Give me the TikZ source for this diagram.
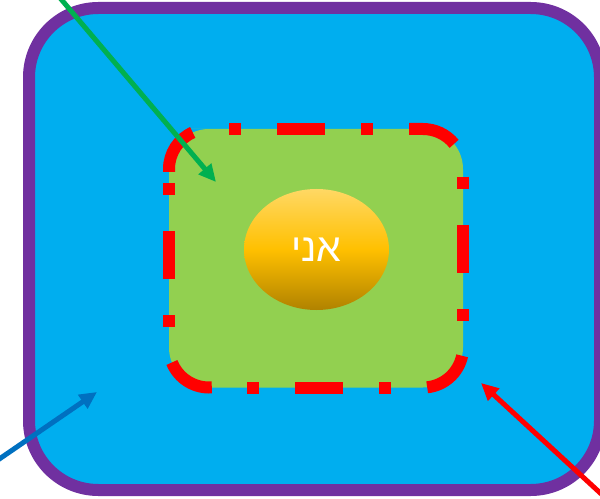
\documentclass[tikz,border=0pt]{standalone}
\usepackage{fontspec}
\usetikzlibrary{arrows.meta,shapes.geometric}
\TeXXeTstate=1
\newfontfamily\hebfont[Script=Hebrew]{Liberation Sans}
\definecolor{outerblue}{RGB}{0,174,239}
\definecolor{outerpurple}{RGB}{112,48,160}
\definecolor{innergreen}{RGB}{146,208,80}
\definecolor{arrgreen}{RGB}{0,176,80}
\definecolor{arrblue}{RGB}{0,112,192}
\definecolor{goldtop}{RGB}{255,216,100}
\definecolor{goldmid}{RGB}{255,192,0}
\definecolor{goldbot}{RGB}{176,130,0}
\tikzset{
  outerbox/.style={draw=outerpurple, fill=outerblue, line width=9pt,
    rounded corners=52pt, minimum width=428.25pt, minimum height=361.5pt,
    inner sep=0pt, outer sep=0pt},
  sidedash/.style={draw=red, line width=9pt,
    dash pattern=on 9pt off 27pt on 36pt off 27pt on 9pt off 100pt},
  cornerdash/.style={draw=red, line width=9pt},
  innerfill/.style={fill=innergreen, rounded corners=30pt},
  selfnode/.style={ellipse, minimum width=108.75pt, minimum height=90.75pt,
    inner sep=0pt, top color=goldtop, bottom color=goldbot, middle color=goldmid,
    text=white, font=\hebfont\fontsize{29.5}{32}\selectfont},
  arrowline/.style={line width=3.75pt, -{Triangle[length=13pt,width=12pt]}}
}
\begin{document}
\begin{tikzpicture}[x=0.75pt,y=-0.75pt]
\useasboundingbox (0,0) rectangle (600,499);
\clip (0,0) rectangle (600,499);
\node[outerbox] (outer) at (314.5,249) {};
\fill[innerfill] (229,129) -- (463,129) -- (463,387.5) -- (169,387.5) -- (169,129) -- cycle;
% dashed border of the inner box: sides
\draw[sidedash] (229,129) -- (373,129);
\draw[sidedash] (463,177) -- (463,321);
\draw[sidedash] (391,387.5) -- (247,387.5);
\draw[sidedash] (169,327) -- (169,183);
% dashed border of the inner box: corners
\draw[cornerdash] (169,172) -- (169,169) arc[start angle=180, end angle=246, radius=40];
\draw[cornerdash] (409,129) -- (423,129) arc[start angle=270, end angle=321, radius=40];
\draw[cornerdash] (423,347.5) ++(12:40) arc[start angle=12, end angle=84, radius=40];
\draw[cornerdash] (209,347.5) ++(86:40) arc[start angle=86, end angle=158, radius=40];
\node[selfnode] (self) at (316.5,249.5) {\beginR אני\endR};
\coordinate (gs) at (55,-8);
\coordinate (ge) at (216,182);
\coordinate (bs) at (-8,464);
\coordinate (be) at (97,392);
\coordinate (rs) at (610,502);
\coordinate (re) at (481,383);
\draw[arrowline, arrgreen] (gs) -- (ge);
\draw[arrowline, arrblue] (bs) -- (be);
\draw[arrowline, red] (rs) -- (re);
\end{tikzpicture}
\end{document}
